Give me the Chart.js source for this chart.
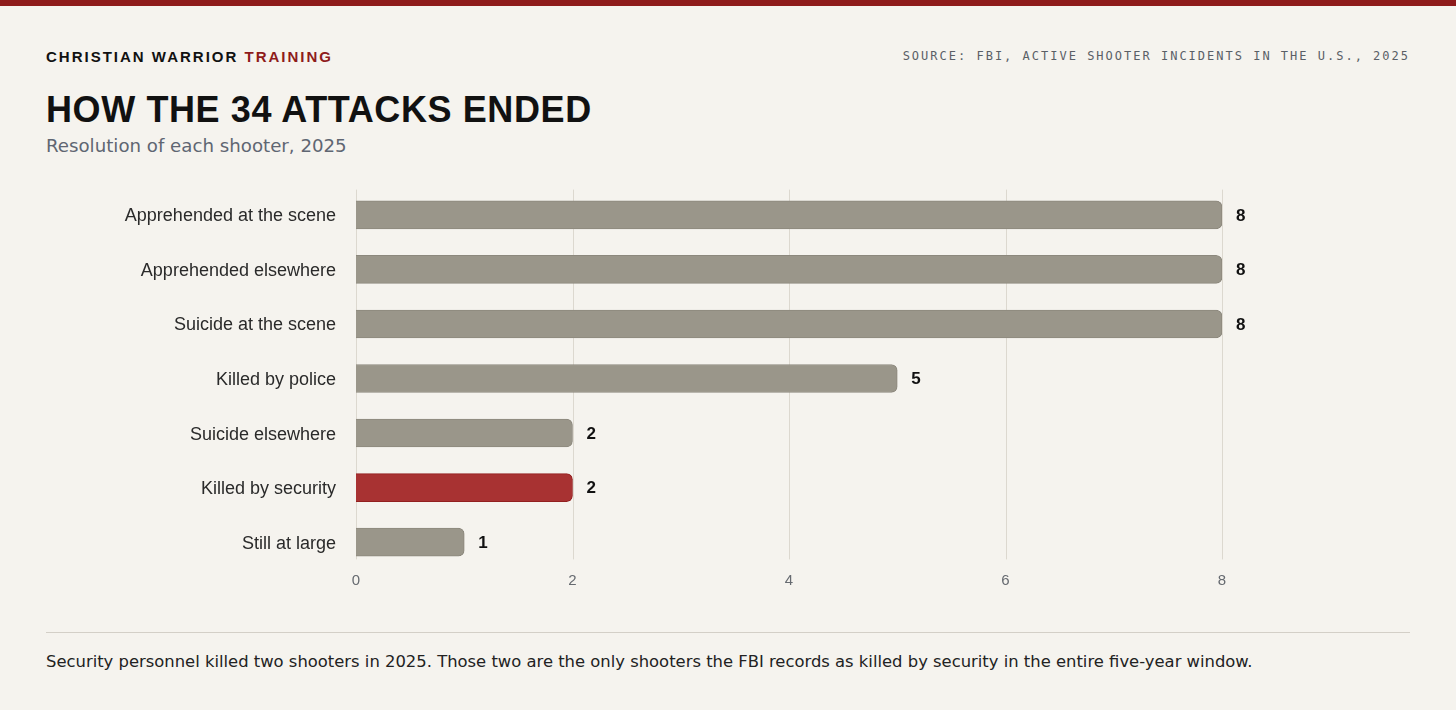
<!DOCTYPE html>
<html>
<head>
<meta charset="utf-8">
<script src="https://cdn.jsdelivr.net/npm/chart.js@4"></script>
<style>
  html, body { margin:0; padding:0; }
  body { width:1456px; height:710px; background:#f5f3ee; position:relative; overflow:hidden; }
  .topbar { position:absolute; left:0; top:0; width:1456px; height:6px; background:#8e1b1b; }
  .kicker { position:absolute; left:46px; top:48px; font:bold 15px "Liberation Sans", Arial, sans-serif; letter-spacing:2px; color:#111; }
  .kicker span { color:#8e1b1b; }
  .source { position:absolute; right:46px; top:49px; font:12px "DejaVu Sans Mono", monospace; letter-spacing:2px; color:#5a5f66; }
  .title { position:absolute; left:46px; top:89px; font:bold 36px "Liberation Sans", Arial, sans-serif; letter-spacing:0.6px; color:#111; }
  .subtitle { position:absolute; left:46px; top:135px; font:18.2px "DejaVu Sans", sans-serif; color:#5f6672; }
  .chartwrap { position:absolute; left:46px; top:170px; width:1364px; height:430px; }
  .rule { position:absolute; left:46px; top:632px; width:1364px; height:1px; background:#d3cfc7; }
  .note { position:absolute; left:46px; top:652px; font:16.4px "DejaVu Sans", sans-serif; color:#222; }
</style>
</head>
<body>
<div class="topbar"></div>
<div class="kicker">CHRISTIAN WARRIOR <span>TRAINING</span></div>
<div class="source">SOURCE: FBI, ACTIVE SHOOTER INCIDENTS IN THE U.S., 2025</div>
<div class="title">HOW THE 34 ATTACKS ENDED</div>
<div class="subtitle">Resolution of each shooter, 2025</div>
<div class="chartwrap"><canvas id="c"></canvas></div>
<div class="rule"></div>
<div class="note">Security personnel killed two shooters in 2025. Those two are the only shooters the FBI records as killed by security in the entire five-year window.</div>
<script>
const categories = [
  "Apprehended at the scene",
  "Apprehended elsewhere",
  "Suicide at the scene",
  "Killed by police",
  "Suicide elsewhere",
  "Killed by security",
  "Still at large"
];
const counts = [8, 8, 8, 5, 2, 2, 1];
const highlight = "Killed by security";
const xTicks = [0, 2, 4, 6, 8];

const GREY = "#9a968a", GREY_B = "#8c887d";
const RED = "#a83232", RED_B = "#921f1f";

const valueLabels = {
  id: "valueLabels",
  afterDatasetsDraw(chart) {
    const ctx = chart.ctx;
    const meta = chart.getDatasetMeta(0);
    ctx.save();
    ctx.font = "bold 17px 'Liberation Sans', Arial, sans-serif";
    ctx.fillStyle = "#111";
    ctx.textAlign = "left";
    ctx.textBaseline = "middle";
    meta.data.forEach((bar, i) => {
      ctx.fillText(String(counts[i]), bar.x + 14, bar.y + 1);
    });
    ctx.restore();
  }
};

const gridLines = {
  id: "gridLines",
  beforeDatasetsDraw(chart) {
    const ctx = chart.ctx;
    const xs = chart.scales.x;
    const a = chart.chartArea;
    ctx.save();
    ctx.strokeStyle = "#dcd8cf";
    ctx.lineWidth = 1;
    xTicks.forEach(v => {
      const px = Math.round(xs.getPixelForValue(v)) + 0.5;
      ctx.beginPath();
      ctx.moveTo(px, a.top + 2);
      ctx.lineTo(px, a.bottom - 10);
      ctx.stroke();
    });
    ctx.restore();
  }
};

new Chart(document.getElementById("c"), {
  type: "bar",
  data: {
    labels: categories,
    datasets: [{
      data: counts,
      backgroundColor: categories.map(c => c === highlight ? RED : GREY),
      borderColor: categories.map(c => c === highlight ? RED_B : GREY_B),
      borderWidth: 1,
      borderRadius: 6,
      borderSkipped: "start",
      barThickness: 28
    }]
  },
  options: {
    indexAxis: "y",
    responsive: true,
    maintainAspectRatio: false,
    animation: false,
    devicePixelRatio: 1,
    layout: { padding: { top: 17.6, right: 188, bottom: 10.6, left: 0 } },
    plugins: { legend: { display: false }, tooltip: { enabled: false } },
    scales: {
      x: {
        min: 0, max: 8,
        afterBuildTicks(s) { s.ticks = xTicks.map(v => ({ value: v })); },
        afterFit(s) { s.height = 20; s.paddingLeft = 0; s.paddingRight = 0; },
        grid: { display: false, drawTicks: false },
        border: { display: false },
        ticks: {
          padding: 2,
          color: "#666a70",
          font: { family: "'Liberation Sans', Arial, sans-serif", size: 15 }
        }
      },
      y: {
        afterFit(s) { s.width = 310; s.paddingTop = 0; s.paddingBottom = 0; },
        grid: { display: false, drawTicks: false },
        border: { display: false },
        ticks: {
          padding: 20,
          labelOffset: 1.5,
          color: "#2a2a2a",
          font: { family: "'Liberation Sans', Arial, sans-serif", size: 18 }
        }
      }
    }
  },
  plugins: [gridLines, valueLabels]
});
</script>
</body>
</html>
